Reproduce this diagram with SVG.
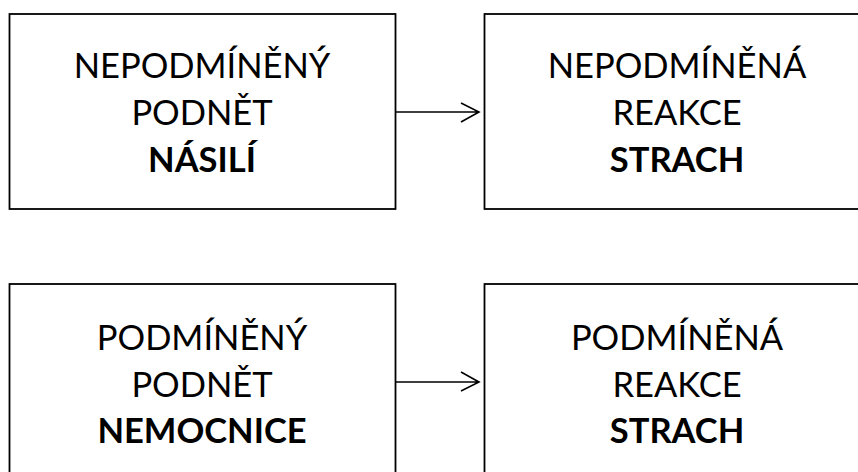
<svg xmlns="http://www.w3.org/2000/svg" width="858" height="472" viewBox="0 0 858 472">
<style>
.box{fill:#fff;stroke:#000;stroke-width:1.8}
.t{font-family:Lato,"Open Sans",sans-serif;font-size:34.5px;fill:#000;text-anchor:middle}
.b{font-weight:bold}
.c{fill:none;stroke:#000;stroke-width:1.6}
</style>
<rect width="858" height="472" fill="#fff"/>
<g id="n1">
<rect class="box" x="9.5" y="14" width="386" height="195"/>
<text class="t" x="202" y="78">NEPODMÍNĚNÝ</text>
<text class="t" x="202" y="125">PODNĚT</text>
<text class="t b" x="202" y="172">NÁSILÍ</text>
</g>
<g id="n2">
<rect class="box" x="484.5" y="14" width="386" height="195"/>
<text class="t" x="677" y="78">NEPODMÍNĚNÁ</text>
<text class="t" x="677" y="125">REAKCE</text>
<text class="t b" x="677" y="172">STRACH</text>
</g>
<g id="n3">
<rect class="box" x="9.5" y="284" width="386" height="200"/>
<text class="t" x="202" y="350">PODMÍNĚNÝ</text>
<text class="t" x="202" y="397">PODNĚT</text>
<text class="t b" x="202" y="443">NEMOCNICE</text>
</g>
<g id="n4">
<rect class="box" x="484.5" y="284" width="386" height="200"/>
<text class="t" x="677" y="350">PODMÍNĚNÁ</text>
<text class="t" x="677" y="397">REAKCE</text>
<text class="t b" x="677" y="443">STRACH</text>
</g>
<g id="connectors">
<path class="c" d="M396 112H479M461 103L479 112L461 122"/>
<path class="c" d="M396 382H479M461 372L479 382L461 391"/>
</g>
</svg>
